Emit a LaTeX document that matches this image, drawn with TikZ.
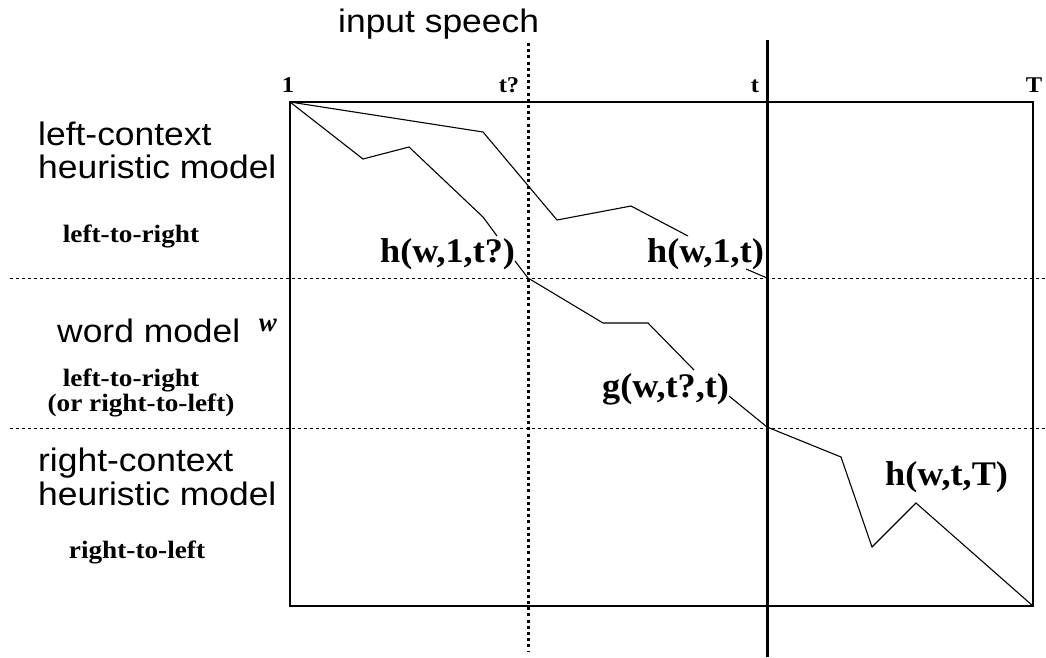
\documentclass[tikz,border=0pt]{standalone}
\usepackage{graphicx}
\usepackage{fontspec}
\setmainfont{Liberation Serif}
\setsansfont{Liberation Sans}
\newcommand{\xst}[1]{\scalebox{1.09}[1]{#1}}
\newcommand{\xsl}[1]{\scalebox{1.05}[1]{#1}}
\begin{document}
\begin{tikzpicture}[x=1pt,y=-1pt,
  big/.style={font=\sffamily\fontsize{32.5}{34}\selectfont, inner sep=0pt, anchor=base west},
  lab/.style={font=\bfseries\fontsize{34.5}{36}\selectfont, inner sep=0pt, anchor=base west},
  small/.style={font=\bfseries\fontsize{25}{27}\selectfont, inner sep=0pt, anchor=base},
  tick/.style={font=\bfseries\fontsize{22.5}{24}\selectfont, inner sep=0pt, anchor=base},
  curve/.style={line width=1.1pt, line join=miter},
  hdash/.style={line width=1pt, dash pattern=on 3pt off 3pt},
  vdot/.style={line width=3pt, dash pattern=on 3pt off 3.2pt}]
\useasboundingbox (0,0) rectangle (1046,657);

% coordinates
\coordinate (TL) at (290,102);
\coordinate (BR) at (1033,606);
\coordinate (tq) at (528,278);
\coordinate (tt) at (767,278);
\coordinate (gw) at (767,427);

% frame and guides
\draw[line width=1.4pt] (TL) rectangle (BR);
\draw[hdash] (10,278) -- (1046,278);
\draw[hdash] (10,428) -- (1046,428);
\draw[vdot] (528,43) -- (528,651);
\draw[line width=3pt] (767,40) -- (767,657);

% paths
\draw[curve] (TL) -- (483,132) -- (557,220) -- (631,206) -- (688,236);
\draw[curve] (746,269) -- (tt);
\draw[curve] (TL) -- (363,159) -- (409,147) -- (483,217) -- (497,236);
\draw[curve] (515,261) -- (tq);
\draw[curve] (tq) -- (603,323) -- (648,323) -- (694,370);
\draw[curve] (729,396) -- (gw);
\draw[curve] (gw) -- (841,457) -- (872,547) -- (916,503) -- (BR);

% path labels
\node[lab] (l1) at (380,262) {\xsl{h(w,1,t?)}};
\node[lab] (l2) at (647,262) {\xsl{h(w,1,t)}};
\node[lab] (l3) at (602,397) {\xsl{g(w,t?,t)}};
\node[lab] (l4) at (885,485) {\xsl{h(w,t,T)}};

% top labels
\node[big] (inp) at (338,32) {\xst{input speech}};
\node[tick] (one) at (288,92) {\xst{1}};
\node[tick] (tqq) at (509,92) {\xst{t?}};
\node[tick] (tlab) at (755,92) {\xst{t}};
\node[tick] (Tlab) at (1034,92) {\xst{T}};

% left labels
\node[big] (lc1) at (38,145) {\xst{left-context}};
\node[big] (lc2) at (38,178) {\xst{heuristic model}};
\node[small] (lr1) at (131,242) {\xst{left-to-right}};
\node[big] (wm) at (57,342) {\xst{word model}};
\node[font=\bfseries\itshape\fontsize{27}{29}\selectfont, inner sep=0pt, anchor=base] (wv) at (268,331) {w};
\node[small] (lr2) at (131,386) {\xst{left-to-right}};
\node[small] (lr3) at (141,411) {\xst{(or right-to-left)}};
\node[big] (rc1) at (38,471) {\xst{right-context}};
\node[big] (rc2) at (38,505) {\xst{heuristic model}};
\node[small] (rl) at (137,558) {\xst{right-to-left}};
\end{tikzpicture}
\end{document}
